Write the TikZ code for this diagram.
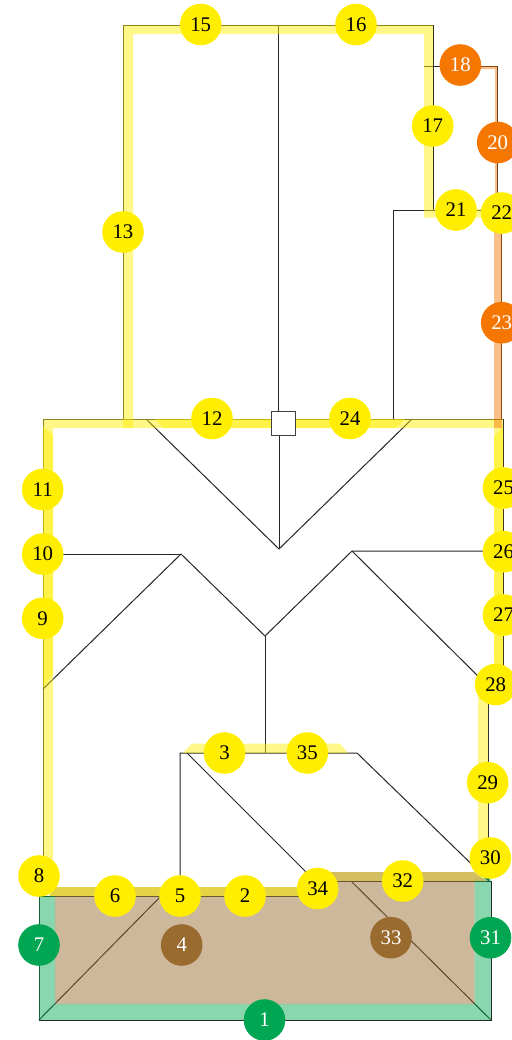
\documentclass[tikz,border=0pt]{standalone}
\usepackage{fontspec}
\setmainfont{Liberation Serif}
\definecolor{yel}{HTML}{FFEE00}
\definecolor{grn}{HTML}{00A651}
\definecolor{org}{HTML}{F57600}
\definecolor{brn}{HTML}{996B2F}
\definecolor{oliveA}{HTML}{E3CF36}
\definecolor{oliveB}{HTML}{CFBA55}
\tikzset{
  wall/.style={draw=black!85,line width=0.5pt,line join=miter},
  ybandfill/.style={fill=yel,opacity=.47,draw=none},
  obandfill/.style={fill=org,opacity=.47,draw=none},
  gbandfill/.style={fill=grn,opacity=.46,draw=none},
  bbandfill/.style={fill=brn,opacity=.48,draw=none},
  mark base/.style={circle,minimum size=20.8pt,inner sep=0pt,font=\fontsize{10.4pt}{12pt}\selectfont},
  ymark/.style={mark base,fill=yel,text=black},
  gmark/.style={mark base,fill=grn,text=white},
  omark/.style={mark base,fill=org,text=white},
  bmark/.style={mark base,fill=brn,text=white}
}
\begin{document}
\begin{tikzpicture}[x=0.5pt,y=-0.5pt]
\useasboundingbox (0,0) rectangle (512,1040);
% walls and roof lines
\draw[wall] (123,419) -- (123,25) -- (433,25) -- (433,210);
\draw[wall] (278,25) -- (278,411);
\draw[wall] (279,436) -- (279,549);
\draw[wall] (146,419) -- (279,549) -- (412,419);
\draw[wall] (43,896) -- (43,419) -- (503,419) -- (503,685) -- (488,685) -- (488,881);
\draw[wall] (43,554) -- (181,554);
\draw[wall] (43,689) -- (181,554) -- (265,636) -- (352,551) -- (503,551);
\draw[wall] (352,551) -- (488,686);
\draw[wall] (265,636) -- (265,753);
\draw[wall] (180,896) -- (180,753) -- (357,753) -- (489,881);
\draw[wall] (187,753) -- (317,883);
\draw[wall] (351,881) -- (491,1020);
\draw[wall] (39,1020) -- (160,897);
\draw[wall] (39,896) -- (317,896) -- (317,881) -- (491,881) -- (491,1020) -- (39,1020) -- cycle;
\draw[wall] (424,66) -- (497.5,66) -- (497.5,200);
\draw[wall] (501.5,213) -- (501.5,419);
\draw[wall] (393,419) -- (393,210) -- (501.5,210);
% bands
\fill[bbandfill] (55,896) -- (317,896) -- (317,881) -- (474.5,881) -- (474.5,1004) -- (55,1004) -- cycle;
\fill[gbandfill] (39,896) -- (39,1020) -- (491,1020) -- (491,878) -- (474.5,878) -- (474.5,1004) -- (55,1004) -- (55,896) -- cycle;
\fill[oliveA,opacity=.92] (55,887) -- (317,887) -- (317,896) -- (49,896) -- cycle;
\fill[oliveB,opacity=.92] (317,872) -- (474,872) -- (487,881) -- (317,881) -- cycle;
\fill[ybandfill] (123,428) -- (123,25) -- (433,25) -- (433,209) -- (500,209) -- (500,217.5) -- (424,217.5) -- (424,34) -- (133,34) -- (133,428) -- cycle;
\fill[ybandfill] (43,887) -- (43,419) -- (503,419) -- (503,685) -- (488,685) -- (488,872) -- (478,862) -- (478,675) -- (494,675) -- (494,428) -- (53,428) -- (53,887) -- cycle;
\fill[ybandfill] (43,426) -- (53,435) -- (53,674) -- (43,688) -- cycle;
\fill[ybandfill] (155,419) -- (163,428) -- (396,428) -- (405,419) -- cycle;
\fill[ybandfill] (503,427) -- (494,436) -- (494,666) -- (503,666) -- cycle;
\fill[ybandfill] (183,753) -- (192,743.5) -- (340,743.5) -- (348,753) -- cycle;
\fill[obandfill] (460,66) -- (497.7,66) -- (497.7,205) -- (495,205) -- (495,69) -- (460,69) -- cycle;
\fill[obandfill] (494,225) -- (501.5,225) -- (501.5,428) -- (494,428) -- cycle;
% central square
\node[draw=black!75,fill=white,line width=0.6pt,minimum size=12.2pt,inner sep=0pt] (sq) at (283.5,423.5) {};
% markers
\foreach \n/\x/\y in {15/200.7/24.5,16/356/24.5,17/432.7/126,21/456/210,22/501.7/213,13/123/232,12/212/418.5,24/350/418.5,11/42.7/489.5,25/503.5/488,10/42.7/554,26/503.5/551.7,9/42.7/618.3,27/503.5/615,28/495.7/684.5,3/224.5/753,35/307.3/753,29/487.7/782.7,30/490.3/858,8/39/876,6/115/896,5/180/896,2/245/896,34/317.7/888.5,32/402.7/881}
  \node[ymark] (m\n) at (\x,\y) {\n};
\foreach \n/\x/\y in {18/460.3/65,20/497.7/142.5,23/501.7/322.7}
  \node[omark] (m\n) at (\x,\y) {\n};
\foreach \n/\x/\y in {7/39/945,31/490.5/937.7,1/264.5/1020}
  \node[gmark] (m\n) at (\x,\y) {\n};
\foreach \n/\x/\y in {4/181.7/945,33/391/937.7}
  \node[bmark] (m\n) at (\x,\y) {\n};
\end{tikzpicture}
\end{document}
